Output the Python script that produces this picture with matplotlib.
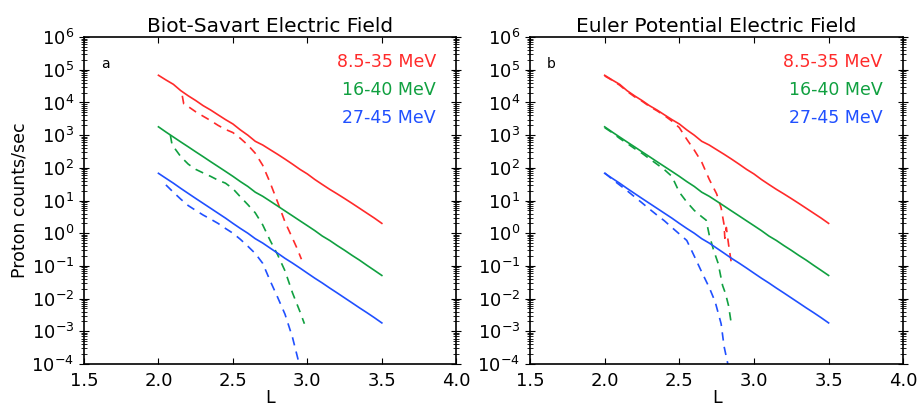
import numpy as np
import matplotlib
matplotlib.use("Agg")
import matplotlib.pyplot as plt
from matplotlib.ticker import LogLocator, FixedLocator


# L shell grid for the solid (model) curves
L_SOLID = [2.00, 2.05, 2.10, 2.15, 2.20, 2.25, 2.30, 2.35, 2.40, 2.45, 2.50,
           2.55, 2.60, 2.65, 2.70, 2.75, 2.80, 2.85, 2.90, 2.95, 3.00,
           3.05, 3.10, 3.15, 3.20, 3.25, 3.30, 3.35, 3.40, 3.45, 3.50]

RED_SOLID = [6.8e4, 4.9e4, 3.6e4, 2.3e4, 1.6e4, 1.15e4, 8.0e3, 5.9e3, 4.2e3,
             3.0e3, 2.2e3, 1.45e3, 1.0e3, 6.5e2, 5.0e2, 3.6e2, 2.6e2, 1.85e2,
             1.3e2, 9.0e1, 6.5e1, 4.4e1, 3.1e1, 2.2e1, 1.6e1, 1.15e1, 8.2,
             5.8, 4.1, 2.9, 2.0]
GREEN_SOLID = [1.8e3, 1.25e3, 8.8e2, 6.2e2, 4.4e2, 3.1e2, 2.2e2, 1.55e2,
               1.1e2, 7.8e1, 5.5e1, 3.8e1, 2.7e1, 1.8e1, 1.35e1, 9.6, 6.8,
               4.8, 3.4, 2.4, 1.7, 1.2, 0.82, 0.6, 0.42, 0.30, 0.21, 0.15,
               0.104, 0.073, 0.051]
BLUE_SOLID = [68, 48, 34, 23.5, 16.5, 11.6, 8.2, 5.8, 4.1, 2.9, 2.0, 1.4,
              1.0, 0.68, 0.5, 0.35, 0.245, 0.17, 0.122, 0.086, 0.06, 0.042,
              0.030, 0.021, 0.0149, 0.0105, 0.0074, 0.0052, 0.0037, 0.0026,
              0.0018]

# panel a: Biot-Savart field, dashed curves
A_RED_L = [2.16, 2.17, 2.20, 2.25, 2.30, 2.35, 2.40, 2.45, 2.50, 2.55, 2.60,
           2.65, 2.70, 2.75, 2.80, 2.85, 2.90, 2.93, 2.96]
A_RED = [1.6e4, 9.0e3, 7.5e3, 5.2e3, 3.8e3, 2.8e3, 2.0e3, 1.5e3, 1.2e3,
         8.0e2, 5.0e2, 2.8e2, 1.2e2, 35, 9, 2.2, 0.7, 0.35, 0.16]
A_GREEN_L = [2.08, 2.09, 2.10, 2.15, 2.20, 2.25, 2.30, 2.35, 2.40, 2.45, 2.50,
             2.55, 2.60, 2.65, 2.70, 2.75, 2.80, 2.85, 2.90, 2.95, 2.98]
A_GREEN = [1.0e3, 5.5e2, 4.5e2, 2.2e2, 1.3e2, 9e1, 7e1, 5.5e1, 4.2e1, 3.4e1,
           2.3e1, 13, 7.5, 4.2, 1.8, 0.6, 0.22, 0.07, 0.015, 0.004, 0.0017]
A_BLUE_L = [2.05, 2.10, 2.15, 2.20, 2.25, 2.30, 2.35, 2.40, 2.45, 2.50, 2.55,
            2.60, 2.65, 2.70, 2.75, 2.80, 2.85, 2.90, 2.945]
A_BLUE = [30, 18, 11, 7, 5, 3.6, 2.7, 2.0, 1.4, 1.0, 0.65, 0.4, 0.24, 0.12,
          0.035, 0.011, 0.0033, 6.5e-4, 1e-4]

# panel b: Euler potential field, dashed curves
B_RED_L = [2.00, 2.05, 2.10, 2.15, 2.20, 2.25, 2.30, 2.35, 2.40, 2.45, 2.50,
           2.55, 2.60, 2.65, 2.70, 2.75, 2.78, 2.80, 2.805, 2.815, 2.83, 2.85]
B_RED = [6.5e4, 4.8e4, 3.4e4, 2.2e4, 1.5e4, 1.1e4, 7.6e3, 5.6e3, 4.0e3,
         2.7e3, 1.7e3, 7.5e2, 3.5e2, 1.5e2, 45, 16, 6, 1.8, 0.7, 1.5, 0.45,
         0.11]
B_GREEN_L = [2.00, 2.05, 2.10, 2.15, 2.20, 2.25, 2.30, 2.35, 2.40, 2.45, 2.50,
             2.55, 2.60, 2.65, 2.68, 2.70, 2.73, 2.76, 2.79, 2.81, 2.83, 2.85]
B_GREEN = [1.7e3, 1.2e3, 8.0e2, 5.6e2, 3.9e2, 2.8e2, 1.9e2, 1.3e2, 88, 55,
           18, 9, 5, 3.2, 2.5, 0.9, 0.3, 0.12, 0.025, 0.014, 0.006, 0.0015]
B_BLUE_L = [2.00, 2.05, 2.10, 2.15, 2.20, 2.25, 2.30, 2.35, 2.40, 2.45, 2.50,
            2.55, 2.60, 2.65, 2.70, 2.74, 2.78, 2.80, 2.825]
B_BLUE = [70, 45, 30, 20, 13, 8.5, 5.5, 3.6, 2.4, 1.5, 0.95, 0.6, 0.2, 0.065,
          0.022, 0.008, 0.0017, 3.4e-4, 1e-4]

TITLES = ["Biot-Savart Electric Field", "Euler Potential Electric Field"]
PANEL_TAGS = ["a", "b"]
CHANNELS = ["8.5-35 MeV", "16-40 MeV", "27-45 MeV"]
COLORS = ["#ff2a2a", "#10a040", "#2050ff"]
X_TICKS = [1.5, 2.0, 2.5, 3.0, 3.5, 4.0]
Y_TICK_EXP = [-4, -3, -2, -1, 0, 1, 2, 3, 4, 5, 6]

dashed = [
    [(A_RED_L, A_RED), (A_GREEN_L, A_GREEN), (A_BLUE_L, A_BLUE)],
    [(B_RED_L, B_RED), (B_GREEN_L, B_GREEN), (B_BLUE_L, B_BLUE)],
]
solid = [RED_SOLID, GREEN_SOLID, BLUE_SOLID]

fig = plt.figure(figsize=(9.17, 4.08), dpi=100)
axes = [fig.add_axes([0.0916, 0.108, 0.406, 0.801]),
        fig.add_axes([0.578, 0.108, 0.407, 0.801])]

for i, ax in enumerate(axes):
    for c in range(3):
        ax.plot(L_SOLID, solid[c], color=COLORS[c], lw=1.2)
        lx, ly = dashed[i][c]
        ax.plot(lx, ly, color=COLORS[c], lw=1.2, ls=(0, (5, 3.8)))

    ax.set_yscale("log")
    ax.set_xlim(1.5, 4.0)
    ax.set_ylim(1e-4, 1e6)
    ax.set_xticks(X_TICKS)
    ax.set_xticklabels(["%.1f" % t for t in X_TICKS])
    ax.yaxis.set_major_locator(FixedLocator([10.0 ** e for e in Y_TICK_EXP]))
    ax.set_yticklabels([r"$\mathregular{10^{%d}}$" % e for e in Y_TICK_EXP])
    ax.yaxis.set_minor_locator(LogLocator(base=10, subs=np.arange(2, 10), numticks=100))
    ax.tick_params(axis="x", which="both", direction="in", top=True,
                   length=4, labelsize=13, pad=6)
    ax.tick_params(axis="y", which="major", direction="inout", right=True,
                   length=7, labelsize=13)
    ax.tick_params(axis="y", which="minor", direction="inout", right=True,
                   length=4)
    for s in ax.spines.values():
        s.set_linewidth(1.2)

    ax.set_title(TITLES[i], fontsize=14.5, pad=4)
    ax.set_xlabel("L", fontsize=12.5, labelpad=-1)
    ax.text(0.045, 0.905, PANEL_TAGS[i], transform=ax.transAxes, fontsize=10)
    for c in range(3):
        ax.text(0.945, 0.91 - c * 0.087, CHANNELS[c], transform=ax.transAxes,
                color=COLORS[c], fontsize=12.5, ha="right")

axes[0].set_ylabel("Proton counts/sec", fontsize=12.5, labelpad=2)

fig.savefig("out.png", dpi=100)
